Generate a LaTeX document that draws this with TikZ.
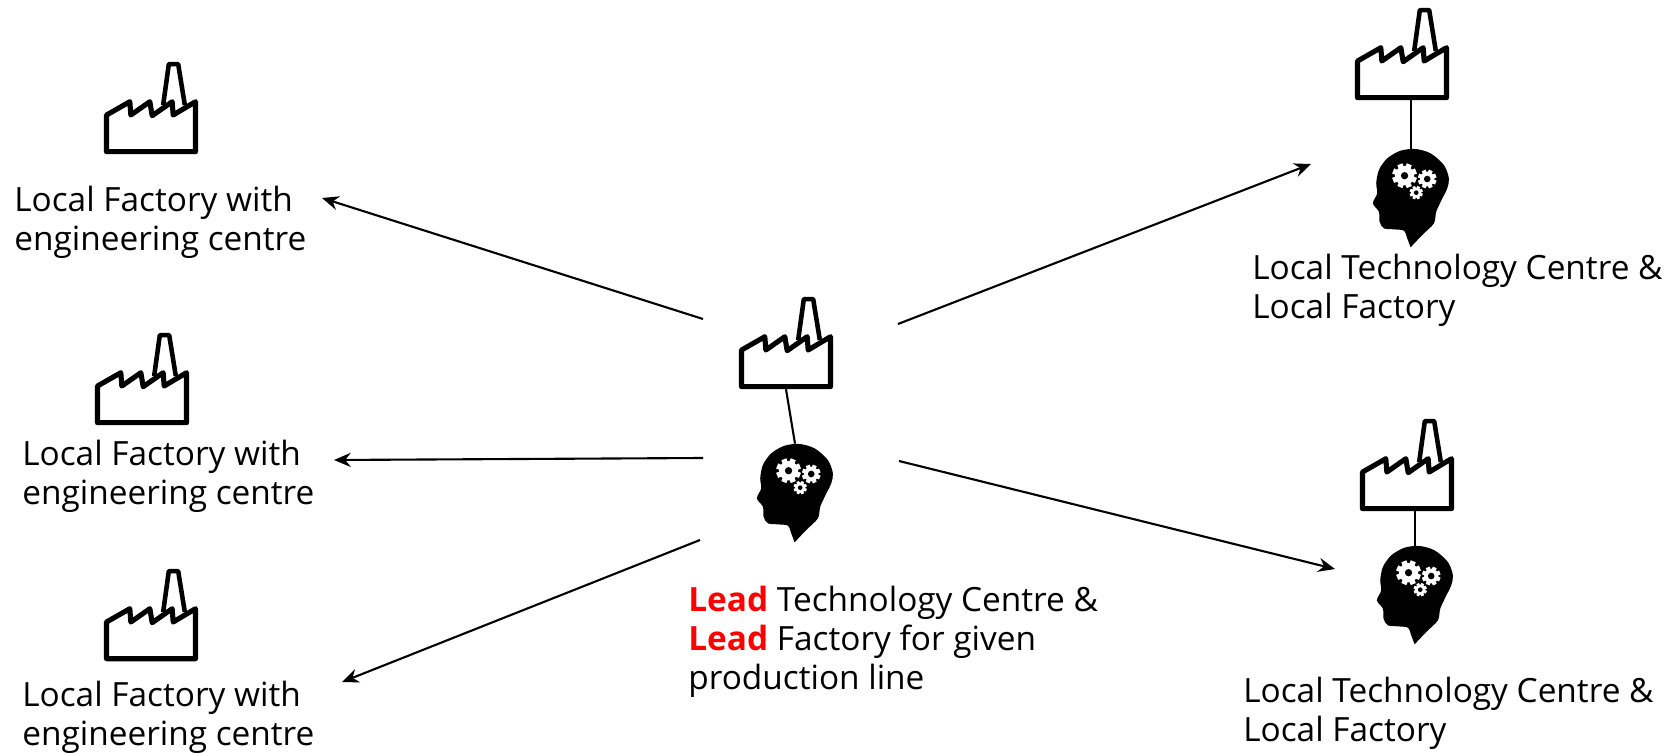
\documentclass[tikz,border=0pt]{standalone}
\usepackage{fontspec}
\setmainfont{Open Sans}
\usetikzlibrary{arrows.meta}

\tikzset{
  label text/.style={anchor=west, align=left, inner sep=0pt, font=\fontsize{19}{22.2}\selectfont},
  icon/.style={inner sep=0pt, outer sep=0pt},
  link/.style={line width=1.2pt},
  flow/.style={line width=1.2pt, -{Stealth[length=9.5pt, width=8pt]}},
}

\newcommand{\factoryicon}{%
  \tikz[x=0.00667cm, y=-0.00667cm, line width=2.9pt, line join=round]{
    \draw (35,290) -- (35,180) -- (105,140) -- (108,180) -- (165,140) -- (172,182)
      -- (232,140) -- (235,180) -- (302,140) -- (302,290) -- cycle;
    \draw[line width=2.6pt] (205,150) -- (222,27) -- (250,27) -- (270,150);
  }}

\newcommand{\gearwheel}[4]{%
  \fill[white] (#1,#2) circle (#3*0.78);
  \foreach \a in {0,45,...,315}
    \fill[white, shift={(#1,#2)}, rotate=\a+22.5] (-#3*0.22,0) rectangle (#3*0.22,#3);
  \fill[black] (#1,#2) circle (#4);
}

\newcommand{\headicon}{%
  \tikz[x=0.00667cm, y=-0.00667cm]{
    \fill[black] plot[smooth, tension=0.5] coordinates {(135,322) (170,285) (205,250) (212,215) (228,180)
      (245,145) (250,115) (235,75) (195,40) (150,27) (105,32) (65,55) (40,90) (32,130) (35,160) (22,190)
      (40,215) (42,245) (55,265) (85,268) (115,272) (125,295) (135,322)} -- cycle;
    \gearwheel{117}{107}{37}{11}
    \gearwheel{185}{117}{28}{10}
    \gearwheel{152}{158}{20}{7}
  }}

\begin{document}
\begin{tikzpicture}[x=0.02cm, y=-0.02cm]

  \useasboundingbox (0,0) rectangle (1667,753);

  % lead site
  \node[icon] (factoryLead) at (786,343) {\factoryicon};
  \node[icon] (headLead) at (795,493) {\headicon};
  \draw[link] (factoryLead.south) -- (headLead.north);
  \node[label text] (textLead) at (688,642) {\textcolor{red}{\textbf{Lead}} Technology Centre \&\\
    \textcolor{red}{\textbf{Lead}} Factory for given\\production line};

  % local factories
  \node[icon] (factoryA) at (151,108) {\factoryicon};
  \node[icon] (factoryB) at (142,379) {\factoryicon};
  \node[icon] (factoryC) at (151,615) {\factoryicon};
  \node[label text] (textA) at (14,222) {Local Factory with\\engineering centre};
  \node[label text] (textB) at (22,476) {Local Factory with\\engineering centre};
  \node[label text] (textC) at (22,717) {Local Factory with\\engineering centre};

  % local technology centres
  \node[icon] (factoryD) at (1402,54) {\factoryicon};
  \node[icon] (headD) at (1411,198) {\headicon};
  \draw[link] (factoryD.south -| headD.north) -- (headD.north);
  \node[label text] (textD) at (1252,290) {Local Technology Centre \&\\Local Factory};

  \node[icon] (factoryE) at (1407,465) {\factoryicon};
  \node[icon] (headE) at (1415,595) {\headicon};
  \draw[link] (factoryE.south -| headE.north) -- (headE.north);
  \node[label text] (textE) at (1243,713) {Local Technology Centre \&\\Local Factory};

  \coordinate (startA) at (703,319);
  \coordinate (endA) at (322,198);
  \coordinate (startB) at (703,458);
  \coordinate (endB) at (334,460);
  \coordinate (startC) at (700,540);
  \coordinate (endC) at (342,682);
  \coordinate (startD) at (898,324);
  \coordinate (endD) at (1311,164);
  \coordinate (startE) at (899,461);
  \coordinate (endE) at (1335,569);

  \draw[flow] (startA) -- (endA);
  \draw[flow] (startB) -- (endB);
  \draw[flow] (startC) -- (endC);
  \draw[flow] (startD) -- (endD);
  \draw[flow] (startE) -- (endE);

\end{tikzpicture}
\end{document}
